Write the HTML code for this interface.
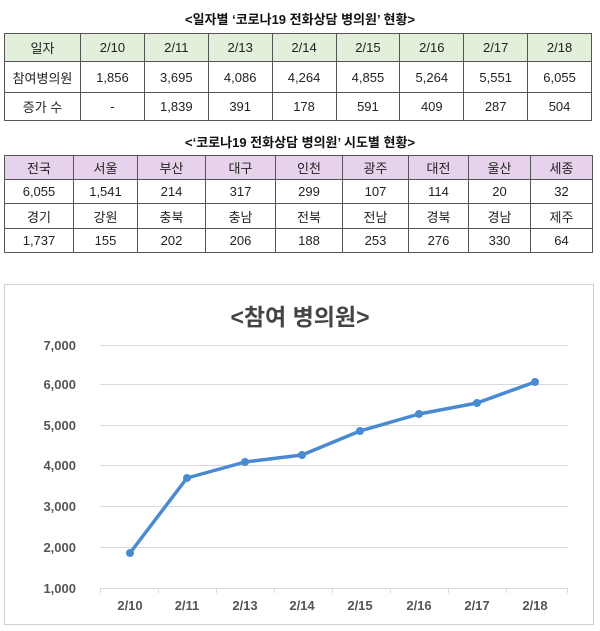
<!DOCTYPE html>
<html><head><meta charset="utf-8"><style>
body{margin:0;width:600px;height:631px;background:#fff;font-family:"Liberation Sans","Noto Sans CJK KR",sans-serif;position:relative;overflow:hidden}
.t{position:absolute;left:0;width:600px;text-align:center;font-weight:bold;font-size:13px;color:#111}
table{position:absolute;border-collapse:collapse;font-size:13px;color:#222;table-layout:fixed}
td{border:1px solid #555;text-align:center;padding:0}
</style></head><body>
<div class="t" style="top:9px">&lt;일자별 ‘코로나19 전화상담 병의원’ 현황&gt;</div>
<table style="left:4px;top:33px;width:588px">
<col style="width:76px"><col><col><col><col><col><col><col><col>
<tr style="height:28px;background:#e2efda"><td>일자</td><td>2/10</td><td>2/11</td><td>2/13</td><td>2/14</td><td>2/15</td><td>2/16</td><td>2/17</td><td>2/18</td></tr>
<tr style="height:31px"><td>참여병의원</td><td>1,856</td><td>3,695</td><td>4,086</td><td>4,264</td><td>4,855</td><td>5,264</td><td>5,551</td><td>6,055</td></tr>
<tr style="height:28px"><td>증가 수</td><td>-</td><td>1,839</td><td>391</td><td>178</td><td>591</td><td>409</td><td>287</td><td>504</td></tr>
</table>
<div class="t" style="top:132px">&lt;‘코로나19 전화상담 병의원’ 시도별 현황&gt;</div>
<table style="left:4px;top:155px;width:588px">
<col style="width:69px"><col style="width:64px"><col style="width:68px"><col style="width:70px"><col style="width:67px"><col style="width:66px"><col style="width:60px"><col style="width:62px"><col style="width:62px">
<tr style="height:24px;background:#e6d2ea"><td>전국</td><td>서울</td><td>부산</td><td>대구</td><td>인천</td><td>광주</td><td>대전</td><td>울산</td><td>세종</td></tr>
<tr style="height:24px"><td>6,055</td><td>1,541</td><td>214</td><td>317</td><td>299</td><td>107</td><td>114</td><td>20</td><td>32</td></tr>
<tr style="height:25px"><td>경기</td><td>강원</td><td>충북</td><td>충남</td><td>전북</td><td>전남</td><td>경북</td><td>경남</td><td>제주</td></tr>
<tr style="height:24px"><td>1,737</td><td>155</td><td>202</td><td>206</td><td>188</td><td>253</td><td>276</td><td>330</td><td>64</td></tr>
</table>
<svg style="position:absolute;left:0;top:0" width="600" height="631" font-family="Liberation Sans, Noto Sans CJK KR, sans-serif">
<rect x="4.5" y="284.5" width="589" height="340" fill="none" stroke="#d0d0d0"/>
<text x="300" y="325" text-anchor="middle" font-size="23" font-weight="bold" fill="#444">&lt;참여 병의원&gt;</text>
<g stroke="#d9d9d9" stroke-width="1">
<line x1="100" x2="568" y1="345.5" y2="345.5"/><line x1="100" x2="568" y1="384.5" y2="384.5"/>
<line x1="100" x2="568" y1="425.5" y2="425.5"/><line x1="100" x2="568" y1="465.5" y2="465.5"/>
<line x1="100" x2="568" y1="506.5" y2="506.5"/><line x1="100" x2="568" y1="547.5" y2="547.5"/>
<line x1="100" x2="568" y1="588.5" y2="588.5"/>
<line x1="100.5" x2="100.5" y1="588" y2="593"/><line x1="158.5" x2="158.5" y1="588" y2="593"/>
<line x1="216.5" x2="216.5" y1="588" y2="593"/><line x1="274.5" x2="274.5" y1="588" y2="593"/>
<line x1="332.5" x2="332.5" y1="588" y2="593"/><line x1="390.5" x2="390.5" y1="588" y2="593"/>
<line x1="448.5" x2="448.5" y1="588" y2="593"/><line x1="506.5" x2="506.5" y1="588" y2="593"/>
<line x1="567.5" x2="567.5" y1="588" y2="593"/>
</g>
<g font-size="13" font-weight="bold" fill="#555" text-anchor="end">
<text x="76" y="350">7,000</text><text x="76" y="389">6,000</text><text x="76" y="430">5,000</text>
<text x="76" y="470">4,000</text><text x="76" y="511">3,000</text><text x="76" y="552">2,000</text><text x="76" y="593">1,000</text>
</g>
<g font-size="13" font-weight="bold" fill="#555" text-anchor="middle">
<text x="130" y="610">2/10</text><text x="187" y="610">2/11</text><text x="245" y="610">2/13</text><text x="302" y="610">2/14</text>
<text x="360" y="610">2/15</text><text x="419" y="610">2/16</text><text x="477" y="610">2/17</text><text x="535" y="610">2/18</text>
</g>
<polyline fill="none" stroke="#4a8ad0" stroke-width="3.5" stroke-linejoin="round" points="130,553 187,478 245,462 302,455 360,431 419,414 477,403 535,382"/>
<g fill="#4a8ad0">
<circle cx="130" cy="553" r="4"/><circle cx="187" cy="478" r="4"/><circle cx="245" cy="462" r="4"/><circle cx="302" cy="455" r="4"/>
<circle cx="360" cy="431" r="4"/><circle cx="419" cy="414" r="4"/><circle cx="477" cy="403" r="4"/><circle cx="535" cy="382" r="4"/>
</g>
</svg>
</body></html>
